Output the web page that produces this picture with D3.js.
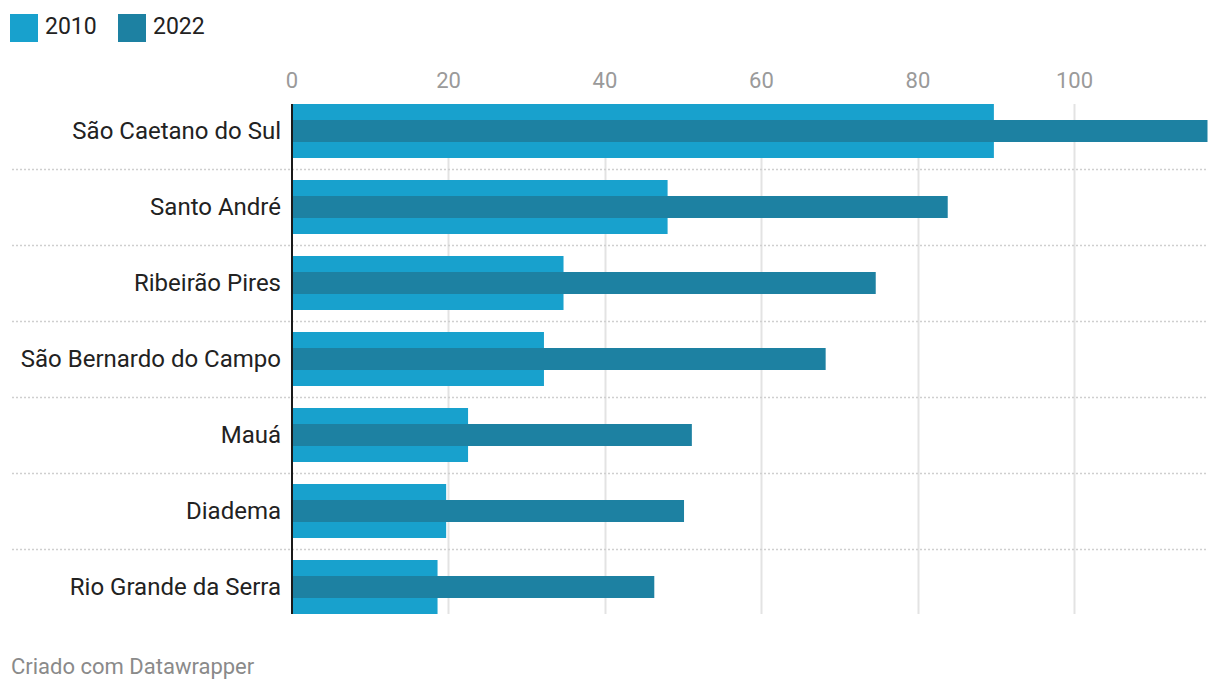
<!DOCTYPE html>
<html><head><meta charset="utf-8">
<script src="https://cdn.jsdelivr.net/npm/d3@7"></script>
<style>
html,body{margin:0;padding:0;background:#fff;}
svg{display:block;font-family:Roboto,"Noto Sans",sans-serif;}
</style></head>
<body>
<svg id="chart" width="1220" height="692"></svg>
<script>
const categories = ["São Caetano do Sul","Santo André","Ribeirão Pires","São Bernardo do Campo","Mauá","Diadema","Rio Grande da Serra"];
const values2010 = [89.7, 48.0, 34.7, 32.2, 22.5, 19.7, 18.6];
const values2022 = [117.0, 83.8, 74.6, 68.2, 51.1, 50.1, 46.3];
const tickValues = [0, 20, 40, 60, 80, 100];
const seriesNames = ["2010", "2022"];
const colors = ["#18a1cd", "#1d81a2"];

const svg = d3.select("#chart");
const x = d3.scaleLinear().domain([0, 117]).range([292, 1207.5]);
const step = 76;
const y = d3.scaleBand().domain(categories)
  .range([93, 93 + step * categories.length])
  .paddingInner(22 / 76).paddingOuter(11 / 76);

// gridlines
const gTop = y(categories[0]);
const gBot = y(categories[categories.length - 1]) + y.bandwidth();
svg.append("g").selectAll("line").data(tickValues.filter(d => d > 0)).join("line")
  .attr("x1", d => Math.round(x(d)) + 0.5).attr("x2", d => Math.round(x(d)) + 0.5)
  .attr("y1", gTop).attr("y2", gBot)
  .attr("stroke", "#e3e3e3").attr("stroke-width", 2);

// tick labels
svg.append("g").selectAll("text").data(tickValues).join("text")
  .attr("x", d => x(d)).attr("y", 88)
  .attr("text-anchor", "middle")
  .attr("fill", "#9a9a9a").attr("font-size", 22)
  .text(d => d);

// separators
svg.append("g").selectAll("line").data(categories.slice(0, -1)).join("line")
  .attr("x1", 12).attr("x2", 1208)
  .attr("y1", d => y(d) + y.bandwidth() + 11.5).attr("y2", d => y(d) + y.bandwidth() + 11.5)
  .attr("stroke", "#cfcfcf").attr("stroke-width", 1.5).attr("stroke-dasharray", "2,2");

// bars 2010
svg.append("g").selectAll("rect").data(categories).join("rect")
  .attr("x", x(0)).attr("y", d => y(d))
  .attr("width", (d, i) => x(values2010[i]) - x(0))
  .attr("height", y.bandwidth())
  .attr("fill", colors[0]);

// bars 2022
const inner = 22;
svg.append("g").selectAll("rect").data(categories).join("rect")
  .attr("x", x(0)).attr("y", d => y(d) + (y.bandwidth() - inner) / 2)
  .attr("width", (d, i) => x(values2022[i]) - x(0))
  .attr("height", inner)
  .attr("fill", colors[1]);

// zero axis line
svg.append("line")
  .attr("x1", x(0)).attr("x2", x(0))
  .attr("y1", gTop).attr("y2", gBot)
  .attr("stroke", "#1a1a1a").attr("stroke-width", 2);

// category labels
svg.append("g").selectAll("text").data(categories).join("text")
  .attr("x", 281).attr("y", d => y(d) + y.bandwidth() / 2)
  .attr("dy", "0.35em")
  .attr("text-anchor", "end")
  .attr("fill", "#222").attr("font-size", 24)
  .text(d => d);

// legend
const legendX = [10, 118];
const lg = svg.append("g").selectAll("g").data(seriesNames).join("g");
lg.append("rect").attr("x", (d, i) => legendX[i]).attr("y", 14)
  .attr("width", 28).attr("height", 28).attr("fill", (d, i) => colors[i]);
lg.append("text").attr("x", (d, i) => legendX[i] + 35).attr("y", 34)
  .attr("font-size", 23).attr("fill", "#222").text(d => d);

// footer
svg.append("text").attr("x", 11).attr("y", 674)
  .attr("font-size", 22).attr("fill", "#8a8a8a")
  .text("Criado com Datawrapper");
</script>
</body></html>
